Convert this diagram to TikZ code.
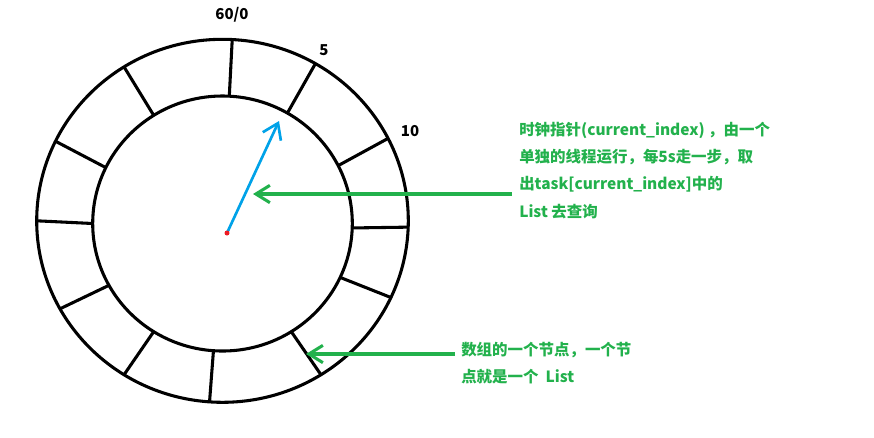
\documentclass[tikz,border=0pt]{standalone}
\usepackage{fontspec}
\newfontfamily\cjk{Noto Sans CJK SC}
\usepackage{xcolor}
\usetikzlibrary{arrows.meta,calc}

\definecolor{paintgreen}{RGB}{34,177,76}
\definecolor{paintblue}{RGB}{0,162,232}
\definecolor{paintred}{RGB}{237,28,36}

\begin{document}
\begin{tikzpicture}[
  x=0.75pt, y=-0.75pt,
  ring/.style={draw=black, line width=2.3pt},
  hand/.style={paintblue, line width=2pt, -{Straight Barb[length=11pt, width=15pt]}},
  pointer/.style={paintgreen, line width=2.3pt, -{Straight Barb[length=10.5pt, width=13pt]}},
  tick/.style={font=\cjk\bfseries\fontsize{11.25pt}{13pt}\selectfont, text=black, inner sep=0pt},
  note/.style={font=\cjk\bfseries\fontsize{11.6pt}{20.4pt}\selectfont, text=paintgreen, align=left, inner sep=0pt, anchor=north west},
]
\useasboundingbox (0,0) rectangle (874,437);

\coordinate (co) at (222.5,220.8);
\coordinate (ci) at (222.5,223.5);
\coordinate (pivot) at (227,233);
\coordinate (handtip) at (279,121);

% the wheel
\draw[ring] (co) ellipse [x radius=185.8, y radius=181.5];
\draw[ring] (ci) ellipse [x radius=129.8, y radius=127.5];
\foreach \a in {-87,-60,-27,2,25,58,94,122,151,180,-154,-122}
  \draw[ring] ($(ci)+(\a:129.8 and 127.5)$) -- ($(co)+(\a:185.8 and 181.5)$);

\node[tick] (zero) at (232,15) {60/0};
\node[tick] (five) at (324,50) {5};
\node[tick] (ten) at (410,131) {10};

% the hand
\draw[hand] (pivot) -- (handtip);
\fill[paintred] (pivot) circle (2.5);

% notes
\node[note] (clocknote) at (519,122) {时钟指针(current\_index) ，由一个\\单独的线程运行，每5s走一步，取\\出task[current\_index]中的\\List 去查询};
\node[note, font=\cjk\bfseries\fontsize{11.6pt}{20.25pt}\selectfont] (slotnote) at (461,342) {数组的一个节点，一个节\\点就是一个~~List};

\coordinate (handfrom) at (512,194);
\coordinate (handto) at (253,194);
\coordinate (slotfrom) at (455,354);
\coordinate (slotto) at (306,354);
\draw[pointer] (handfrom) -- (handto);
\draw[pointer] (slotfrom) -- (slotto);
\end{tikzpicture}
\end{document}
